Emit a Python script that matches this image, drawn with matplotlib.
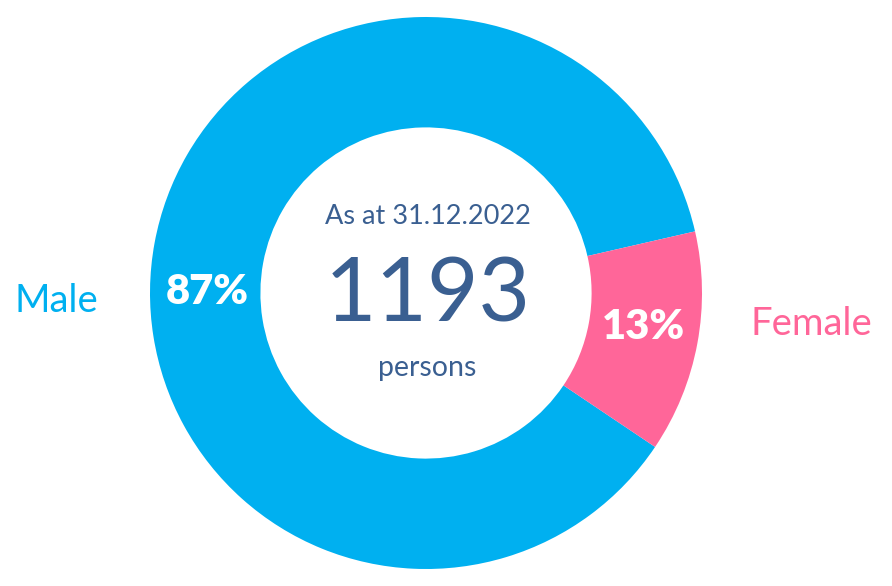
import matplotlib
matplotlib.use('Agg')
import matplotlib.pyplot as plt

# data
labels = ['Male', 'Female']
shares = [87, 13]
total = 1193
date_text = 'As at 31.12.2022'
colors = ['#00B0F0', '#FF6699']
text_col = '#3A5F91'

plt.rcParams['font.family'] = ['Lato', 'DejaVu Sans']

fig = plt.figure(figsize=(8.92, 5.86), dpi=100)
ax = fig.add_axes([0, 0, 1, 1])
ax.set_xlim(0, 892)
ax.set_ylim(0, 586)
ax.set_aspect('equal')
ax.axis('off')

cx, cy = 426, 586 - 293
wedges, _ = ax.pie(shares, colors=colors, startangle=12.9, counterclock=True,
                   center=(cx, cy), radius=276,
                   wedgeprops=dict(width=276 * 0.4, linewidth=0))
ax.set_xlim(0, 892)
ax.set_ylim(0, 586)

# percentages on the ring
ax.text(207, 586 - 292, f'{shares[0]}%', color='white', fontsize=30,
        fontweight='heavy', ha='center', va='center')
ax.text(643, 586 - 327, f'{shares[1]}%', color='white', fontsize=30,
        fontweight='heavy', ha='center', va='center')

# category labels outside
ax.text(56, 586 - 301, labels[0], color=colors[0], fontsize=27.5,
        ha='center', va='center')
ax.text(811, 586 - 324, labels[1], color=colors[1], fontsize=27.5,
        ha='center', va='center')

# centre text
ax.text(428, 586 - 217, date_text, color=text_col, fontsize=19.5,
        ha='center', va='center')
ax.text(428, 586 - 297, str(total), color=text_col, fontsize=64,
        ha='center', va='center')
ax.text(427, 586 - 368, 'persons', color=text_col, fontsize=20.5,
        ha='center', va='center')

fig.savefig('out.png', dpi=100)
